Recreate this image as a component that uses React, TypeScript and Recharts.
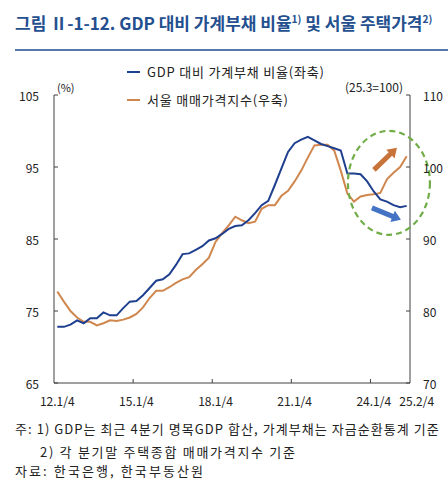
import React from 'react'
import { LineChart, Line, XAxis, YAxis, ReferenceDot } from 'recharts'

// quarters 2012 Q1 .. 2025 Q2
const years = [12, 13, 14, 15, 16, 17, 18, 19, 20, 21, 22, 23, 24, 25]
const quarters: string[] = []
years.forEach((y) => {
  for (let q = 1; q <= 4; q++) {
    if (y === 25 && q > 2) break
    quarters.push(`${y}.${q}/4`)
  }
})

// GDP 대비 가계부채 비율 (좌축, %)
const debtRatio = [
  72.8, 72.8, 73.1, 73.7, 73.3, 74.0, 74.0, 74.8, 74.4, 74.4,
  75.4, 76.3, 76.4, 77.2, 78.2, 79.2, 79.4, 80.1, 81.4, 82.9,
  83.0, 83.5, 84.0, 84.8, 85.1, 85.7, 86.4, 86.8, 86.9, 87.6,
  88.6, 89.7, 90.3, 92.5, 94.8, 97.1, 98.3, 98.8, 99.2, 98.7,
  98.2, 97.9, 97.6, 97.3, 94.1, 94.1, 94.0, 93.0, 91.6, 90.5,
  90.2, 89.7, 89.4, 89.6,
]

// 서울 매매가격지수 (우축, 25.3=100)
const seoulPrice = [
  82.7, 81.3, 80.0, 79.1, 78.5, 78.5, 78.0, 78.3, 78.7, 78.6,
  78.8, 79.1, 79.6, 80.5, 81.8, 82.8, 82.8, 83.3, 83.9, 84.4,
  84.7, 85.7, 86.5, 87.4, 89.6, 90.8, 91.9, 93.1, 92.6, 92.2,
  92.4, 94.2, 94.7, 94.7, 96.0, 96.7, 98.0, 99.5, 101.3, 103.0,
  103.1, 103.1, 102.3, 99.5, 96.3, 95.2, 95.9, 96.1, 96.2, 96.4,
  98.3, 99.2, 100.0, 101.5,
]

const xTickLabels = ['12.1/4', '15.1/4', '18.1/4', '21.1/4', '24.1/4', '25.2/4']
const leftTicks = [65, 75, 85, 95, 105]
const rightTicks = [70, 80, 90, 100, 110]

const rows = quarters.map((q, i) => ({ q, debt: debtRatio[i], price: seoulPrice[i] }))

const BLUE = '#1f3f8f'
const ORANGE = '#d0874e'
const AXIS = '#404040'
const FONT = '"Noto Sans CJK KR", "Noto Sans", sans-serif'

const PLOT_LEFT = 54
const PLOT_RIGHT = 410
const halfStep = (PLOT_RIGHT - PLOT_LEFT) / quarters.length / 2

function XTick(props: any) {
  const { x, y, payload } = props
  const label = String(payload.value)
  const first = label === quarters[0]
  const last = label === quarters[quarters.length - 1]
  return (
    <g>
      {!first && !last && (
        <line x1={x - halfStep} x2={x - halfStep} y1={y} y2={y - 4} stroke={AXIS} />
      )}
      <text
        x={last ? x + 10 : x}
        y={y + 17}
        textAnchor="middle"
        dominantBaseline="central"
        fontSize={12}
        fill="#222"
        fontFamily={FONT}
      >
        {label}
      </text>
    </g>
  )
}

function LeftTick(props: any) {
  const { x, y, payload } = props
  return (
    <g>
      <line x1={x} x2={x + 4} y1={y} y2={y} stroke={AXIS} />
      <text x={x - 15} y={y} textAnchor="end" dominantBaseline="central" fontSize={12} fill="#222" fontFamily={FONT}>
        {payload.value}
      </text>
    </g>
  )
}

function RightTick(props: any) {
  const { x, y, payload } = props
  return (
    <g>
      <line x1={x - 4} x2={x} y1={y} y2={y} stroke={AXIS} />
      <text x={x + 13} y={y} textAnchor="start" dominantBaseline="central" fontSize={12} fill="#222" fontFamily={FONT}>
        {payload.value}
      </text>
    </g>
  )
}

function arrow(x0: number, y0: number, x1: number, y1: number, shaft: number, head: number, headLen: number) {
  const dx = x1 - x0
  const dy = y1 - y0
  const len = Math.hypot(dx, dy)
  const ux = dx / len
  const uy = dy / len
  const nx = -uy
  const ny = ux
  const bx = x1 - ux * headLen
  const by = y1 - uy * headLen
  const p = [
    [x0 + nx * shaft / 2, y0 + ny * shaft / 2],
    [bx + nx * shaft / 2, by + ny * shaft / 2],
    [bx + nx * head / 2, by + ny * head / 2],
    [x1, y1],
    [bx - nx * head / 2, by - ny * head / 2],
    [bx - nx * shaft / 2, by - ny * shaft / 2],
    [x0 - nx * shaft / 2, y0 - ny * shaft / 2],
  ]
  return p.map((pt) => pt.join(',')).join(' ')
}

// dashed circle + trend arrows around the latest quarters
function Highlight(props: any) {
  const { cx, cy } = props
  if (cx == null || cy == null) return null
  const c = cx + 2
  return (
    <g>
      <ellipse cx={c} cy={cy} rx={41} ry={52} fill="none" stroke="#70ad47" strokeWidth={2.2} strokeDasharray="6 4" />
      <polygon points={arrow(c - 15, cy - 13, c + 8, cy - 35, 5, 12, 9)} fill="#c8733a" />
      <polygon points={arrow(c - 17, cy + 25, c + 12, cy + 37, 5, 12, 9)} fill="#4472c4" />
    </g>
  )
}

function Chart() {
  return (
    <LineChart width={448} height={413} data={rows} margin={{ top: 95, right: 0, left: 0, bottom: 0 }}>
      <XAxis
        dataKey="q"
        ticks={xTickLabels}
        interval={0}
        height={30}
        padding={{ left: halfStep, right: halfStep }}
        tickSize={0}
        tickMargin={0}
        tickLine={false}
        axisLine={{ stroke: AXIS }}
        tick={(p: any) => <XTick {...p} />}
      />
      <YAxis
        yAxisId="left"
        orientation="left"
        width={54}
        domain={[65, 105]}
        ticks={leftTicks}
        interval={0}
        tickSize={0}
        tickMargin={0}
        tickLine={false}
        axisLine={{ stroke: AXIS }}
        tick={(p: any) => <LeftTick {...p} />}
      />
      <YAxis
        yAxisId="right"
        orientation="right"
        width={38}
        domain={[70, 110]}
        ticks={rightTicks}
        interval={0}
        tickSize={0}
        tickMargin={0}
        tickLine={false}
        axisLine={{ stroke: AXIS }}
        tick={(p: any) => <RightTick {...p} />}
      />
      <ReferenceDot yAxisId="right" x="24.3/4" y={97.8} shape={(p: any) => <Highlight {...p} />} />
      <Line yAxisId="right" type="linear" dataKey="price" stroke={ORANGE} strokeWidth={2} dot={false} isAnimationActive={false} />
      <Line yAxisId="left" type="linear" dataKey="debt" stroke={BLUE} strokeWidth={2} dot={false} isAnimationActive={false} />
    </LineChart>
  )
}

const abs = (style: React.CSSProperties): React.CSSProperties => ({ position: 'absolute', whiteSpace: 'nowrap', ...style })
const sup: React.CSSProperties = { fontSize: '0.6em', verticalAlign: '0.7em' }

export default function App() {
  return (
    <div style={{ position: 'fixed', left: 0, top: 0, width: 448, height: 500, background: '#fff', fontFamily: FONT, color: '#222' }}>
      <div style={abs({ left: 15, top: 7, fontSize: 17, fontWeight: 700, letterSpacing: 0, color: '#24508f', lineHeight: '24px' })}>
        그림 Ⅱ-1-12. GDP 대비 가계부채 비율<span style={sup}>1)</span> 및 서울 주택가격<span style={sup}>2)</span>
      </div>
      <div style={abs({ left: 15, top: 49, width: 433, height: 2, background: '#5577aa' })} />

      <div style={abs({ left: 0, top: 0 })}>
        <Chart />
      </div>

      <div style={abs({ left: 127, top: 71, width: 13, height: 2, background: BLUE })} />
      <div style={abs({ left: 147, top: 62, fontSize: 13, letterSpacing: 0.8, lineHeight: '20px' })}>GDP 대비 가계부채 비율(좌축)</div>
      <div style={abs({ left: 127, top: 99, width: 13, height: 2, background: ORANGE })} />
      <div style={abs({ left: 147, top: 90, fontSize: 13, letterSpacing: 0.8, lineHeight: '20px' })}>서울 매매가격지수(우축)</div>

      <div style={abs({ left: 57, top: 79, fontSize: 11, lineHeight: '16px' })}>(%)</div>
      <div style={abs({ right: 448 - 403, top: 78, fontSize: 12, lineHeight: '18px' })}>(25.3=100)</div>

      <div style={abs({ left: 15, top: 419, fontSize: 13, letterSpacing: 1.05, lineHeight: '20px' })}>
        주: 1) GDP는 최근 4분기 명목GDP 합산, 가계부채는 자금순환통계 기준
      </div>
      <div style={abs({ left: 40, top: 442, fontSize: 13, letterSpacing: 1.7, lineHeight: '20px' })}>
        2) 각 분기말 주택종합 매매가격지수 기준
      </div>
      <div style={abs({ left: 15, top: 461, fontSize: 13, letterSpacing: 2.1, lineHeight: '20px' })}>
        자료: 한국은행, 한국부동산원
      </div>
    </div>
  )
}
